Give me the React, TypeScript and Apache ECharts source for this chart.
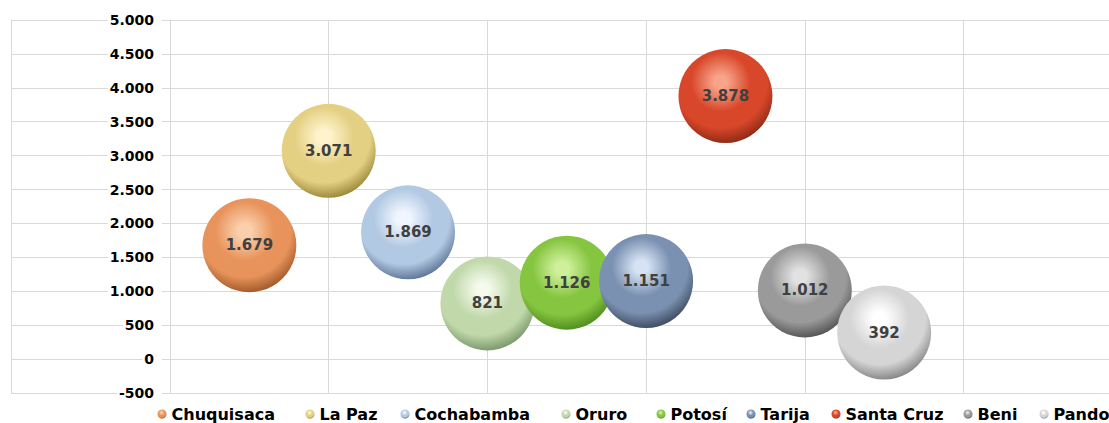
import React, { useEffect, useRef } from "react";
import * as echarts from "echarts";

// ---- data ----
const departments = ["Chuquisaca", "La Paz", "Cochabamba", "Oruro", "Potosí", "Tarija", "Santa Cruz", "Beni", "Pando"];
const xPositions = [1, 2, 3, 4, 5, 6, 7, 8, 9];
const values = [1679, 3071, 1869, 821, 1126, 1151, 3878, 1012, 392];
const yMin = -500;
const yMax = 5000;
const yStep = 500;
const xMin = -2;
const xMax = 12;
const xStep = 2;

// ---- colours (light highlight, base, shadow) ----
const lightColors = ["#FAD0AC", "#FFF4CC", "#F0F6FF", "#F4FAEC", "#CFF09A", "#D6E3F4", "#F7A48A", "#E2E2E2", "#FFFFFF"];
const baseColors = ["#E8935B", "#E4D083", "#B2C9E3", "#C0D8AA", "#86C540", "#7A91B1", "#D9472A", "#9A9A9A", "#D5D5D5"];
const darkColors = ["#A45C2C", "#9E8C3E", "#62799A", "#7E9A6E", "#52901F", "#414F66", "#912B16", "#585858", "#8A8A8A"];

// ---- layout ----
const legendIconCenters = [162, 310, 405, 566, 661, 751, 836, 968, 1044];
const FONT = "'DejaVu Sans', 'Liberation Sans', sans-serif";
const UNIT_PX = 79.35;
const ORIGIN_X = 170;
const GRID_TOP = 20;
const GRID_H = 373;
const GRID_COLOR = "#d9d9d9";

const fmt = (n: number) => {
  const s = String(Math.abs(n)).replace(/\B(?=(\d{3})+(?!\d))/g, ".");
  return n < 0 ? "-" + s : s;
};

const sphere = (i: number) => ({
  type: "radial",
  x: 0.45,
  y: 0.35,
  r: 0.7,
  colorStops: [
    { offset: 0, color: lightColors[i] },
    { offset: 0.1, color: lightColors[i] },
    { offset: 0.45, color: baseColors[i] },
    { offset: 0.7, color: baseColors[i] },
    { offset: 0.93, color: darkColors[i] },
    { offset: 1, color: darkColors[i] },
  ],
});

export default function App() {
  const ref = useRef<HTMLDivElement>(null);

  useEffect(() => {
    if (!ref.current) return;
    const chart = echarts.init(ref.current, undefined, { renderer: "svg" });

    const series = departments.map((name, i) => ({
      name,
      type: "scatter",
      xAxisIndex: 0,
      yAxisIndex: 0,
      symbol: "circle",
      symbolSize: 94,
      clip: false,
      z: 10,
      data: [[xPositions[i], values[i]]],
      itemStyle: { color: sphere(i), opacity: 1 },
      label: {
        show: true,
        position: "inside",
        formatter: (p: any) => fmt(p.value[1]),
        color: "#404040",
        fontSize: 15,
        fontWeight: "bold",
        fontFamily: FONT,
      },
      emphasis: { disabled: true },
    }));

    const legends = departments.map((name, i) => ({
      data: [{ name, icon: "circle", itemStyle: { color: sphere(i) } }],
      left: legendIconCenters[i] - 4.5,
      top: 406,
      padding: 0,
      itemWidth: 9,
      itemHeight: 9,
      selectedMode: false,
      textStyle: { fontSize: 16, fontWeight: "bold", color: "#000", fontFamily: FONT },
    }));

    const lineStyle = { color: GRID_COLOR, width: 1 };

    chart.setOption({
      animation: false,
      backgroundColor: "#ffffff",
      grid: [
        // main plot: x from 0 to xMax
        { left: ORIGIN_X, top: GRID_TOP, width: xMax * UNIT_PX, height: GRID_H, containLabel: false, outerBoundsMode: "none" },
        // left strip: x from xMin to 0
        { left: ORIGIN_X + xMin * UNIT_PX, top: GRID_TOP, width: -xMin * UNIT_PX, height: GRID_H, containLabel: false, outerBoundsMode: "none" },
      ],
      xAxis: [
        {
          gridIndex: 0,
          type: "value",
          min: 0,
          max: xMax,
          interval: xStep,
          axisLine: { show: true, onZero: false, lineStyle },
          axisTick: { show: false },
          axisLabel: { show: false },
          splitLine: { show: true, lineStyle },
        },
        {
          gridIndex: 1,
          type: "value",
          min: xMin,
          max: 0,
          interval: xStep,
          axisLine: { show: true, onZero: false, lineStyle },
          axisTick: { show: false },
          axisLabel: { show: false },
          splitLine: { show: true, lineStyle },
        },
      ],
      yAxis: [
        {
          gridIndex: 0,
          type: "value",
          min: yMin,
          max: yMax,
          interval: yStep,
          z: 5,
          axisLine: { show: true, onZero: false, lineStyle },
          axisTick: { show: true, length: 6, lineStyle },
          axisLabel: {
            margin: 8,
            formatter: (v: number) => fmt(v),
            fontSize: 14,
            fontWeight: "bold",
            color: "#000",
            fontFamily: FONT,
            backgroundColor: "#ffffff",
            padding: [1, 8, 1, 2],
          },
          splitLine: { show: true, lineStyle },
        },
        {
          gridIndex: 1,
          type: "value",
          min: yMin,
          max: yMax,
          interval: yStep,
          z: 0,
          axisLine: { show: true, onZero: false, lineStyle },
          axisTick: { show: false },
          axisLabel: { show: false },
          splitLine: { show: true, lineStyle },
        },
      ],
      legend: legends,
      series,
    } as any);

    return () => chart.dispose();
  }, []);

  return (
    <div
      ref={ref}
      style={{ position: "fixed", left: 0, top: 0, width: 1109, height: 423, background: "#fff" }}
    />
  );
}
